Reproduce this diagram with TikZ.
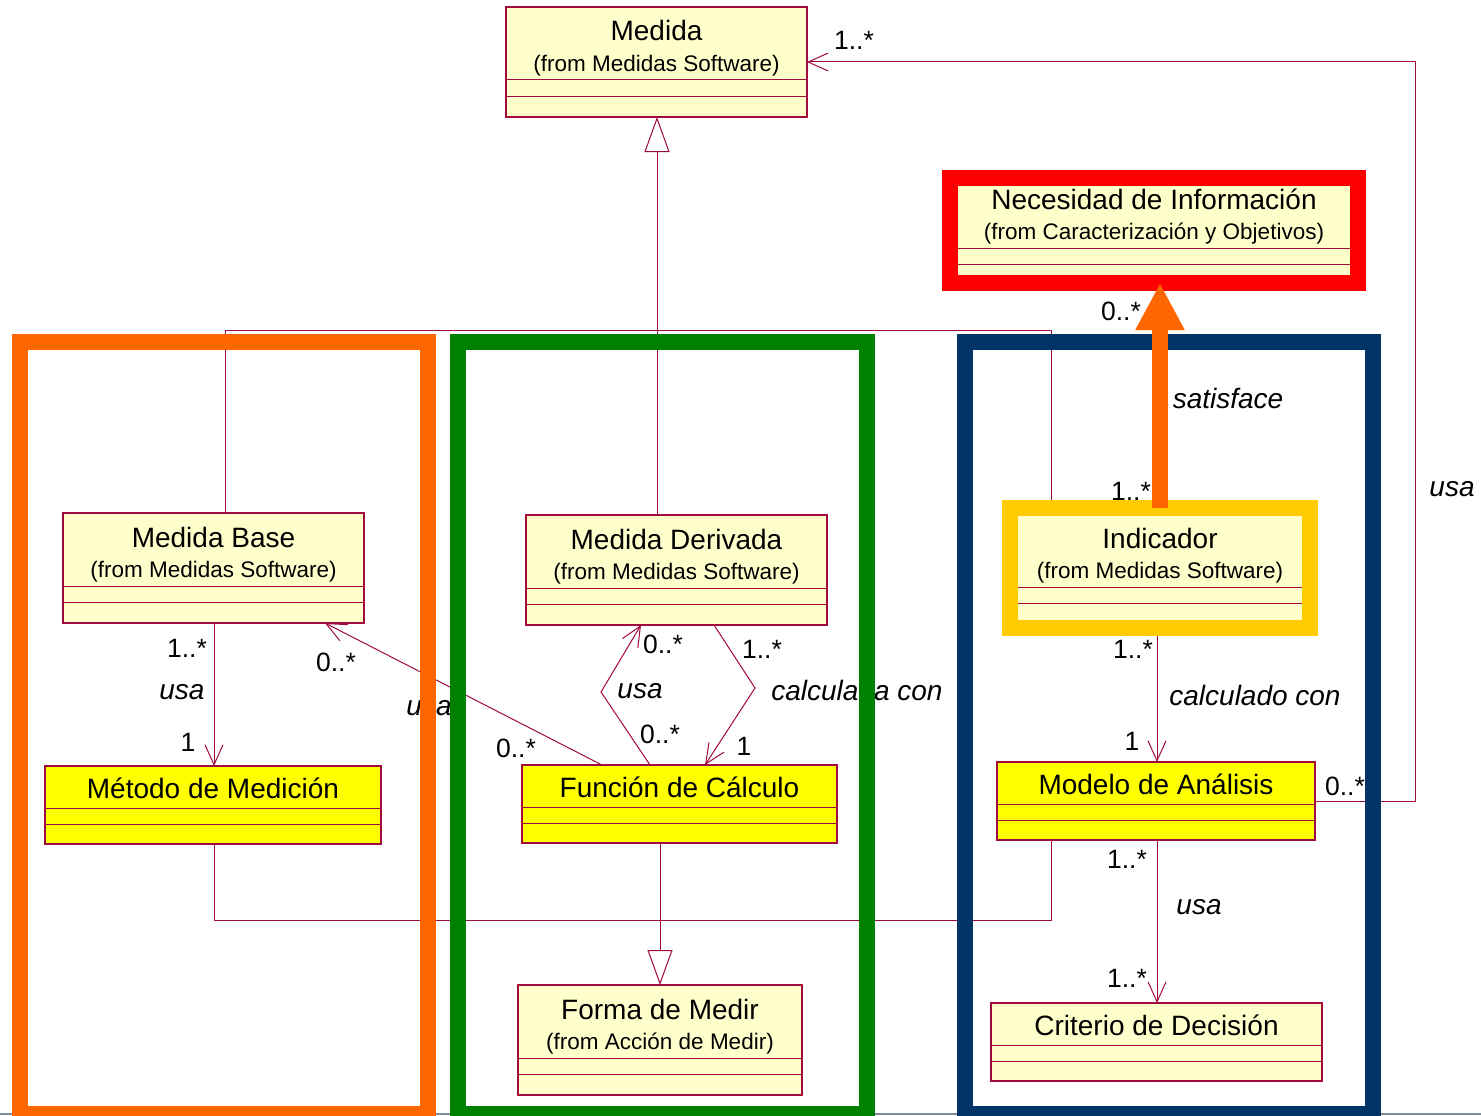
\documentclass[tikz,border=0pt]{standalone}
\usepackage{fontspec}
\setmainfont{Liberation Sans}
\usetikzlibrary{arrows.meta,calc}

\definecolor{umlline}{RGB}{160,10,60}
\definecolor{classfill}{RGB}{255,255,204}
\definecolor{keyfill}{RGB}{255,255,0}
\definecolor{frameorange}{RGB}{255,102,0}
\definecolor{framegreen}{RGB}{0,128,0}
\definecolor{framenavy}{RGB}{0,51,102}
\definecolor{framered}{RGB}{255,0,0}
\definecolor{framegold}{RGB}{255,204,0}
\definecolor{slideline}{RGB}{128,138,154}

% UML class with name and package line: name, fill, x, y, width, title, package
\newcommand{\umlclassii}[7]{%
  \node[classbox, fill=#2, minimum width=#5pt, minimum height=110pt] (#1) at (#3,#4) {};
  \draw[conn] ($(#1.north west)+(0,73)$) -- ($(#1.north east)+(0,73)$);
  \draw[conn] ($(#1.north west)+(0,89)$) -- ($(#1.north east)+(0,89)$);
  \node[ctitle] (#1-t) at ($(#1.north)+(0,34)$) {#6};
  \node[csub] (#1-s) at ($(#1.north)+(0,64)$) {#7};
}
% UML class with name only: name, fill, x, y, width, title
\newcommand{\umlclassi}[6]{%
  \node[classbox, fill=#2, minimum width=#5pt, minimum height=78pt] (#1) at (#3,#4) {};
  \draw[conn] ($(#1.north west)+(0,42)$) -- ($(#1.north east)+(0,42)$);
  \draw[conn] ($(#1.north west)+(0,58)$) -- ($(#1.north east)+(0,58)$);
  \node[ctitle] (#1-t) at ($(#1.north)+(0,32)$) {#6};
}

\begin{document}
\begin{tikzpicture}[x=1pt,y=-1pt,
  classbox/.style={draw=umlline, line width=1.2pt, inner sep=0pt, outer sep=0pt, anchor=north west},
  ctitle/.style={font=\fontsize{28}{30}\selectfont, anchor=base, inner sep=0pt},
  csub/.style={font=\fontsize{22.5}{24}\selectfont, anchor=base, inner sep=0pt},
  mult/.style={font=\fontsize{26.5}{28}\selectfont, anchor=base, inner sep=0pt},
  role/.style={font=\fontsize{28}{30}\selectfont\itshape, anchor=base, inner sep=0pt},
  conn/.style={draw=umlline, line width=1pt},
  assoc/.style={conn, -{Straight Barb[length=20pt,width=18pt]}},
  gen/.style={conn, -{Triangle[fill=white,length=35pt,width=25pt]}},
  groupframe/.style={line width=16pt},
]
\clip (0,0) rectangle (1481,1116);
\fill[white] (0,0) rectangle (1481,1116);

% slide edge
\draw[slideline, line width=2pt] (0,1114) -- (1481,1114);

% ---- classes ----
\umlclassii{medida}{classfill}{506}{7}{301}{Medida}{(from Medidas Software)}
\umlclassii{nec}{classfill}{948}{175}{412}{Necesidad de Información}{(from Caracterización y Objetivos)}
\umlclassii{mbase}{classfill}{63}{513}{301}{Medida Base}{(from Medidas Software)}
\umlclassii{mder}{classfill}{526}{515}{301}{Medida Derivada}{(from Medidas Software)}
\umlclassii{ind}{classfill}{1010}{514}{300}{Indicador}{(from Medidas Software)}
\umlclassi{metodo}{keyfill}{45}{766}{336}{Método de Medición}
\umlclassi{funcion}{keyfill}{522}{765}{315}{Función de Cálculo}
\umlclassi{modelo}{keyfill}{997}{762}{318}{Modelo de Análisis}
\umlclassii{forma}{classfill}{518}{985}{284}{Forma de Medir}{(from Acción de Medir)}
\umlclassi{criterio}{classfill}{991}{1003}{331}{Criterio de Decisión}

% ---- generalization to Medida ----
\coordinate (gL) at (225,330);
\coordinate (gM) at (657,330);
\coordinate (gR) at (1051,330);
\draw[conn] (mbase.north -| gL) -- (gL) -- (gR) -- (ind.north -| gR);
\draw[conn] (mder.north -| gM) -- (gM);
\draw[gen] (gM) -- (medida.south -| gM);

% ---- generalization to Forma de Medir ----
\coordinate (hL) at (214,920);
\coordinate (hM) at (660,920);
\coordinate (hR) at (1051,920);
\draw[conn] (metodo.south -| hL) -- (hL) -- (hR) -- (modelo.south -| hR);
\draw[gen] (funcion.south -| hM) -- (forma.north -| hM);

% ---- associations ----
\coordinate (vc) at (1157,0);
\draw[assoc] (mbase.south -| hL) -- (metodo.north -| hL);
\draw[assoc] ($(funcion.north west)+(80,0)$) -- ($(mbase.south west)+(262,0)$);
\coordinate (usaBend) at (601,692);
\draw[assoc] ($(funcion.north west)+(128,0)$) -- (usaBend) -- ($(mder.south west)+(115,0)$);
\coordinate (calcBend) at (755,688);
\draw[assoc] ($(mder.south west)+(188,0)$) -- (calcBend) -- ($(funcion.north west)+(183,0)$);
\draw[assoc] (ind.south -| vc) -- (modelo.north -| vc);
\draw[assoc] (modelo.south -| vc) -- (criterio.north -| vc);
\coordinate (rc) at (1415,0);
\draw[assoc] (modelo.east) -- (modelo.east -| rc) -- (medida.east -| rc) -- (medida.east);

% ---- multiplicities and roles ----
\node[mult] (m1) at (854,50) {1..*};
\node[mult] (m2) at (1121,320) {0..*};
\node[role] (r1) at (1228,408) {satisface};
\node[mult] (m3) at (1131,500) {1..*};
\node[role] (r2) at (1452,496) {usa};

\node[mult] (m4) at (187,657) {1..*};
\node[role] (r3) at (182,699) {usa};
\node[mult] (m5) at (188,751) {1};
\node[mult] (m6) at (336,671) {0..*};
\node[role] (r4) at (429,715) {usa};
\node[mult] (m7) at (516,757) {0..*};

\node[mult] (m8) at (663,653) {0..*};
\node[role] (r5) at (640,698) {usa};
\node[mult] (m9) at (660,743) {0..*};
\node[mult] (m10) at (762,658) {1..*};
\node[role] (r6) at (857,700) {calculada con};
\node[mult] (m11) at (744,755) {1};

\node[mult] (m12) at (1133,658) {1..*};
\node[role] (r7) at (1255,705) {calculado con};
\node[mult] (m13) at (1132,750) {1};
\node[mult] (m14) at (1345,795) {0..*};
\node[mult] (m15) at (1127,868) {1..*};
\node[role] (r8) at (1199,914) {usa};
\node[mult] (m16) at (1127,987) {1..*};

% ---- grouping frames ----
\draw[groupframe, frameorange] (20,342) rectangle (428,1114);
\draw[groupframe, framegreen] (458,342) rectangle (866.5,1114);
\draw[groupframe, framenavy] (965,342) rectangle (1373,1114);
\draw[groupframe, framered] (950,178) rectangle (1358,283);
\draw[groupframe, framegold] (1010,508) rectangle (1310,628);

% ---- satisface ----
\draw[line width=16pt, frameorange, -{Triangle[length=47pt,width=46pt]}]
  ($(ind.north)+(0,-6)$) -- ($(nec.south -| ind.north)+(0,-2)$);
\end{tikzpicture}
\end{document}
